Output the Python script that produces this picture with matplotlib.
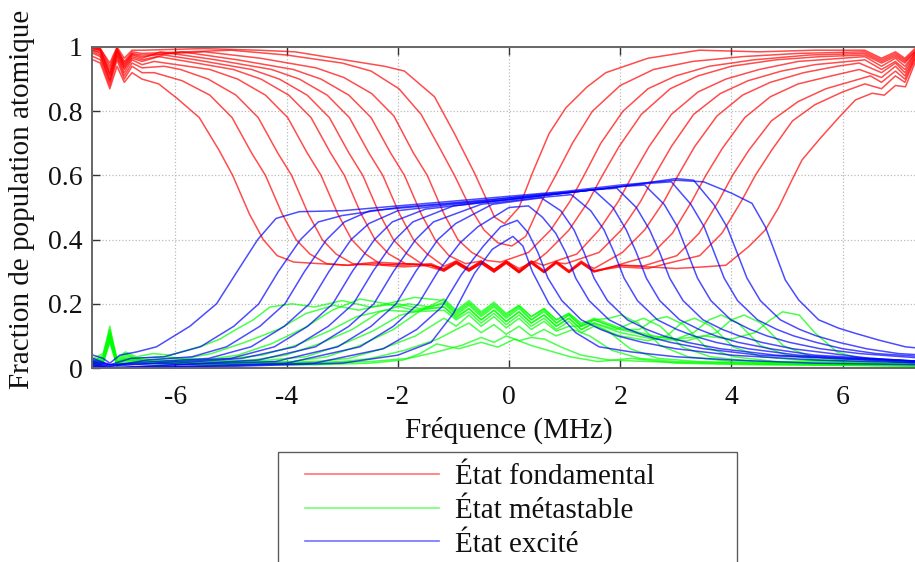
import matplotlib
matplotlib.use("Agg")
import matplotlib.pyplot as plt
from matplotlib.lines import Line2D
from matplotlib.legend_handler import HandlerBase

plt.rcParams['font.family'] = ['Liberation Serif', 'DejaVu Serif']
plt.rcParams['axes.unicode_minus'] = False

# ---------------- data ----------------
legend_labels = ["État fondamental", "État métastable", "État excité"]
x_label = "Fréquence (MHz)"
y_label = "Fraction de population atomique"
x_ticks = [-6, -4, -2, 0, 2, 4, 6]
x_tick_labels = ["-6", "-4", "-2", "0", "2", "4", "6"]
y_ticks = [0, 0.2, 0.4, 0.6, 0.8, 1.0]
y_tick_labels = ["0", "0.2", "0.4", "0.6", "0.8", "1"]

# ground state (red), one list of (frequency MHz, fraction) per scan
fondamental = [
    [(-7.48,.96),(-7.35,.95),(-7.18,.87),(-7.05,.94),(-6.92,.89),(-6.78,.92),(-6.6,.90),(-6.3,.885),(-5.97,.84),(-5.57,.78),(-5.22,.68),(-4.97,.60),(-4.67,.48),(-4.42,.40),(-4.17,.35),(-3.87,.33),(-3.4,.325),(-2.9,.32),(-2.4,.33),(-1.9,.325),(-1.4,.32),(-1.17,.31),(-0.95,.333),(-0.72,.31),(-0.5,.333),(-0.27,.307),(-0.05,.333),(0.18,.303),(0.40,.333),(0.63,.303),(0.85,.333),(1.08,.303),(1.30,.333),(1.53,.303),(2.0,.32),(2.5,.315),(3.0,.31),(3.5,.315),(3.9,.32),(4.31,.378),(4.61,.43),(4.85,.50),(5.09,.586),(5.27,.648),(5.57,.71),(5.93,.78),(6.23,.835),(6.53,.856),(6.75,.85),(6.95,.88),(7.13,.876),(7.3,.95),(7.48,.98)],
    [(-7.48,.97),(-7.35,.96),(-7.18,.88),(-7.05,.96),(-6.92,.90),(-6.78,.94),(-6.6,.92),(-6.38,.92),(-5.88,.895),(-5.38,.85),(-4.98,.78),(-4.63,.67),(-4.38,.60),(-4.08,.48),(-3.83,.40),(-3.58,.355),(-3.28,.325),(-2.9,.32),(-2.4,.325),(-1.9,.32),(-1.4,.325),(-1.17,.307),(-0.95,.33),(-0.72,.307),(-0.5,.33),(-0.27,.303),(-0.05,.33),(0.18,.30),(0.40,.33),(0.63,.30),(0.85,.33),(1.08,.30),(1.30,.328),(1.53,.302),(2.0,.315),(2.5,.31),(2.83,.325),(3.43,.35),(3.83,.42),(4.18,.52),(4.43,.60),(4.73,.68),(5.1,.77),(5.5,.82),(6.0,.86),(6.4,.885),(6.7,.87),(6.95,.91),(7.12,.89),(7.3,.96),(7.48,.985)],
    [(-7.48,.98),(-7.35,.97),(-7.18,.89),(-7.05,.97),(-6.92,.91),(-6.78,.95),(-6.6,.935),(-6.2,.94),(-5.91,.93),(-5.41,.90),(-4.91,.85),(-4.51,.78),(-4.16,.67),(-3.91,.60),(-3.61,.48),(-3.36,.40),(-3.11,.355),(-2.81,.325),(-2.4,.32),(-1.9,.325),(-1.4,.32),(-1.17,.305),(-0.95,.328),(-0.72,.305),(-0.5,.328),(-0.27,.302),(-0.05,.328),(0.18,.298),(0.40,.328),(0.63,.298),(0.85,.328),(1.08,.298),(1.30,.328),(1.53,.30),(2.0,.32),(2.42,.318),(3.02,.35),(3.42,.42),(3.77,.52),(4.02,.60),(4.32,.68),(4.72,.77),(5.2,.83),(5.7,.87),(6.2,.895),(6.5,.91),(6.7,.89),(6.95,.925),(7.12,.90),(7.3,.965),(7.48,.985)],
    [(-7.48,.985),(-7.35,.975),(-7.18,.895),(-7.05,.975),(-6.92,.92),(-6.78,.96),(-6.6,.945),(-6.38,.955),(-5.38,.93),(-4.88,.90),(-4.38,.85),(-3.98,.78),(-3.63,.67),(-3.38,.60),(-3.08,.48),(-2.83,.40),(-2.58,.355),(-2.28,.32),(-1.9,.315),(-1.4,.32),(-1.17,.302),(-0.95,.326),(-0.72,.302),(-0.5,.326),(-0.27,.299),(-0.05,.326),(0.18,.297),(0.40,.326),(0.63,.297),(0.85,.326),(1.08,.297),(1.30,.326),(1.53,.299),(1.94,.32),(2.54,.35),(2.94,.42),(3.29,.52),(3.54,.60),(3.84,.685),(4.24,.78),(4.7,.845),(5.2,.885),(5.8,.91),(6.3,.93),(6.7,.905),(6.95,.94),(7.12,.91),(7.3,.97),(7.48,.99)],
    [(-7.48,.99),(-7.35,.98),(-7.18,.90),(-7.05,.98),(-6.92,.93),(-6.78,.965),(-6.6,.955),(-6.3,.97),(-5.96,.96),(-4.96,.93),(-4.46,.90),(-3.96,.85),(-3.56,.78),(-3.21,.67),(-2.96,.60),(-2.66,.48),(-2.41,.40),(-2.16,.355),(-1.86,.325),(-1.4,.32),(-1.17,.307),(-0.95,.331),(-0.72,.307),(-0.5,.331),(-0.27,.304),(-0.05,.331),(0.18,.302),(0.40,.331),(0.63,.302),(0.85,.331),(1.08,.302),(1.30,.331),(1.53,.31),(2.04,.36),(2.44,.43),(2.79,.52),(3.04,.60),(3.34,.69),(3.74,.785),(4.2,.85),(4.7,.89),(5.3,.92),(5.9,.94),(6.3,.95),(6.7,.92),(6.95,.95),(7.12,.92),(7.3,.975),(7.48,.99)],
    [(-7.48,.99),(-7.35,.985),(-7.18,.91),(-7.05,.985),(-6.92,.935),(-6.78,.97),(-6.6,.96),(-6.2,.975),(-5.63,.96),(-4.63,.93),(-4.13,.90),(-3.63,.85),(-3.23,.78),(-2.88,.67),(-2.63,.60),(-2.33,.48),(-2.08,.40),(-1.83,.355),(-1.53,.32),(-1.17,.302),(-0.95,.326),(-0.72,.302),(-0.5,.326),(-0.27,.299),(-0.05,.328),(0.18,.297),(0.40,.328),(0.63,.299),(0.85,.328),(1.02,.325),(1.62,.36),(2.02,.43),(2.37,.52),(2.62,.60),(2.92,.69),(3.32,.79),(3.8,.855),(4.3,.895),(4.9,.925),(5.5,.945),(6.1,.955),(6.4,.96),(6.7,.93),(6.95,.955),(7.12,.93),(7.3,.98),(7.48,.99)],
    [(-7.48,.995),(-7.35,.99),(-7.18,.915),(-7.05,.99),(-6.92,.94),(-6.78,.975),(-6.6,.965),(-6.27,.985),(-5.27,.96),(-4.27,.93),(-3.77,.90),(-3.27,.85),(-2.87,.78),(-2.52,.67),(-2.27,.60),(-1.97,.48),(-1.72,.40),(-1.47,.355),(-1.17,.317),(-0.95,.333),(-0.72,.307),(-0.5,.333),(-0.27,.305),(-0.05,.333),(0.18,.302),(0.40,.333),(0.62,.32),(1.22,.355),(1.62,.43),(1.97,.52),(2.22,.60),(2.52,.69),(2.92,.79),(3.4,.86),(3.9,.90),(4.5,.93),(5.2,.955),(6.0,.965),(6.4,.97),(6.7,.94),(6.95,.965),(7.12,.94),(7.3,.98),(7.48,.995)],
    [(-7.48,.995),(-7.35,.99),(-7.18,.92),(-7.05,.99),(-6.92,.945),(-6.78,.978),(-6.6,.97),(-5.88,.985),(-4.88,.96),(-3.88,.93),(-3.38,.90),(-2.88,.85),(-2.48,.78),(-2.13,.67),(-1.88,.60),(-1.58,.48),(-1.33,.40),(-1.08,.35),(-0.78,.325),(-0.5,.333),(-0.27,.307),(-0.05,.333),(0.18,.31),(0.5,.335),(0.68,.36),(1.08,.43),(1.43,.52),(1.68,.60),(1.98,.69),(2.38,.79),(2.9,.87),(3.4,.91),(4.0,.94),(4.8,.96),(5.6,.97),(6.4,.975),(6.7,.95),(6.95,.97),(7.12,.95),(7.3,.985),(7.48,.995)],
    [(-7.48,1.0),(-7.35,.99),(-7.18,.93),(-7.05,.995),(-6.92,.95),(-6.78,.98),(-6.6,.975),(-5.47,.985),(-4.47,.965),(-3.47,.935),(-2.97,.905),(-2.47,.855),(-2.07,.785),(-1.72,.67),(-1.47,.60),(-1.17,.48),(-0.92,.40),(-0.67,.36),(-0.4,.335),(-0.15,.33),(0.1,.345),(0.35,.36),(0.75,.43),(1.1,.52),(1.35,.60),(1.65,.70),(2.05,.80),(2.5,.87),(3.0,.91),(3.6,.94),(4.4,.96),(5.4,.975),(6.4,.98),(6.7,.955),(6.95,.975),(7.12,.955),(7.3,.985),(7.48,.995)],
    [(-7.48,1.0),(-7.35,.995),(-7.18,.94),(-7.05,.995),(-6.92,.955),(-6.78,.985),(-6.6,.98),(-5.0,.99),(-4.0,.975),(-3.0,.95),(-2.48,.925),(-1.98,.87),(-1.58,.79),(-1.23,.68),(-0.98,.60),(-0.7,.50),(-0.45,.43),(-0.2,.39),(0.05,.38),(0.3,.41),(0.59,.52),(0.84,.60),(1.14,.70),(1.5,.80),(2.0,.88),(2.6,.93),(3.3,.955),(4.2,.97),(5.2,.98),(6.4,.985),(6.7,.96),(6.95,.98),(7.12,.96),(7.3,.99),(7.48,1.0)],
    [(-7.48,1.0),(-7.35,.995),(-7.18,.95),(-7.05,1.0),(-6.92,.965),(-6.78,.99),(-6.6,.99),(-5.5,.995),(-4.5,.99),(-3.85,.985),(-2.96,.96),(-2.24,.94),(-1.88,.925),(-1.34,.845),(-0.98,.73),(-0.62,.607),(-0.26,.47),(-0.08,.45),(0.18,.50),(0.42,.607),(0.72,.73),(1.02,.81),(1.4,.875),(1.74,.92),(2.5,.965),(3.42,.99),(4.5,.985),(5.5,.99),(6.4,.99),(6.7,.965),(6.95,.985),(7.12,.965),(7.3,.995),(7.48,1.0)],
]

# metastable state (green)
metastable = [
    [(-7.48,.03),(-7.3,.045),(-7.18,.12),(-7.05,.03),(-6.9,.05),(-6.7,.035),(-6.4,.045),(-6.1,.04),(-5.8,.055),(-5.5,.07),(-5.2,.09),(-4.91,.12),(-4.6,.15),(-4.3,.19),(-3.9,.20),(-3.5,.19),(-3.0,.21),(-2.5,.19),(-2.0,.20),(-1.6,.185),(-1.17,.20),(-0.95,.165),(-0.72,.195),(-0.5,.16),(-0.27,.19),(-0.05,.155),(0.18,.185),(0.40,.15),(0.63,.175),(0.85,.14),(1.08,.165),(1.30,.13),(1.53,.15),(2.0,.12),(2.5,.10),(3.0,.09),(3.5,.10),(4.0,.09),(4.42,.11),(4.7,.15),(4.92,.175),(5.22,.165),(5.5,.11),(5.9,.05),(6.3,.03),(7.0,.02),(7.48,.02)],
    [(-7.48,.02),(-7.3,.04),(-7.18,.11),(-7.05,.025),(-6.9,.045),(-6.7,.03),(-6.2,.035),(-5.8,.03),(-5.35,.045),(-4.75,.08),(-4.15,.12),(-3.65,.17),(-3.15,.195),(-2.7,.18),(-2.2,.20),(-1.7,.18),(-1.17,.19),(-0.95,.16),(-0.72,.185),(-0.5,.15),(-0.27,.18),(-0.05,.145),(0.18,.175),(0.40,.14),(0.63,.165),(0.85,.13),(1.08,.155),(1.30,.12),(1.53,.14),(2.0,.11),(2.6,.09),(3.2,.085),(3.73,.11),(4.0,.15),(4.23,.165),(4.53,.14),(4.93,.07),(5.43,.035),(6.0,.025),(6.6,.03),(7.2,.015),(7.48,.02)],
    [(-7.48,.025),(-7.3,.035),(-7.18,.13),(-7.05,.02),(-6.9,.04),(-6.6,.025),(-6.0,.03),(-5.5,.025),(-4.88,.04),(-4.28,.075),(-3.68,.125),(-3.18,.18),(-2.68,.215),(-2.2,.20),(-1.7,.22),(-1.17,.21),(-0.95,.175),(-0.72,.205),(-0.5,.17),(-0.27,.20),(-0.05,.165),(0.18,.195),(0.40,.16),(0.63,.185),(0.85,.15),(1.08,.17),(1.30,.135),(1.53,.155),(2.0,.125),(2.6,.10),(3.0,.09),(3.32,.11),(3.6,.15),(3.82,.165),(4.12,.14),(4.52,.07),(5.0,.04),(5.6,.025),(6.3,.02),(7.0,.025),(7.48,.015)],
    [(-7.48,.02),(-7.3,.03),(-7.18,.10),(-7.05,.015),(-6.9,.035),(-6.5,.02),(-5.8,.025),(-5.0,.03),(-4.44,.04),(-3.84,.07),(-3.24,.115),(-2.74,.16),(-2.24,.18),(-1.7,.175),(-1.17,.18),(-0.95,.15),(-0.72,.175),(-0.5,.14),(-0.27,.17),(-0.05,.135),(0.18,.165),(0.40,.13),(0.63,.155),(0.85,.12),(1.08,.145),(1.30,.11),(1.53,.13),(2.0,.10),(2.5,.085),(2.84,.10),(3.1,.14),(3.34,.155),(3.64,.13),(4.04,.065),(4.54,.035),(5.2,.025),(6.0,.02),(6.8,.015),(7.48,.02)],
    [(-7.48,.015),(-7.3,.03),(-7.18,.115),(-7.05,.02),(-6.9,.03),(-6.4,.02),(-5.5,.02),(-4.6,.025),(-4.02,.04),(-3.42,.075),(-2.82,.12),(-2.32,.175),(-1.82,.20),(-1.4,.19),(-1.17,.205),(-0.95,.17),(-0.72,.20),(-0.5,.165),(-0.27,.195),(-0.05,.16),(0.18,.19),(0.40,.15),(0.63,.18),(0.85,.14),(1.08,.165),(1.30,.13),(1.53,.15),(2.0,.12),(2.34,.12),(2.6,.15),(2.84,.16),(3.14,.135),(3.54,.065),(4.04,.035),(4.8,.02),(5.6,.02),(6.5,.015),(7.48,.01)],
    [(-7.48,.015),(-7.3,.025),(-7.18,.10),(-7.05,.015),(-6.9,.03),(-6.3,.02),(-5.3,.015),(-4.3,.025),(-3.65,.035),(-3.05,.07),(-2.45,.115),(-1.95,.165),(-1.45,.185),(-1.17,.19),(-0.95,.155),(-0.72,.185),(-0.5,.15),(-0.27,.18),(-0.05,.145),(0.18,.175),(0.40,.14),(0.63,.165),(0.85,.13),(1.08,.155),(1.30,.12),(1.53,.14),(1.92,.12),(2.2,.14),(2.42,.155),(2.72,.13),(3.12,.065),(3.62,.035),(4.4,.02),(5.4,.015),(6.4,.015),(7.48,.01)],
    [(-7.48,.01),(-7.3,.025),(-7.18,.105),(-7.05,.015),(-6.9,.025),(-6.2,.015),(-5.0,.02),(-3.9,.02),(-3.28,.035),(-2.68,.07),(-2.08,.12),(-1.58,.18),(-1.17,.215),(-0.95,.18),(-0.72,.21),(-0.5,.175),(-0.27,.205),(-0.05,.17),(0.18,.195),(0.40,.16),(0.63,.185),(0.85,.15),(1.08,.17),(1.30,.14),(1.53,.15),(1.8,.155),(2.02,.165),(2.32,.14),(2.72,.07),(3.22,.035),(4.0,.02),(5.0,.015),(6.2,.015),(7.48,.01)],
    [(-7.48,.01),(-7.3,.02),(-7.18,.095),(-7.05,.01),(-6.9,.025),(-6.0,.015),(-4.8,.015),(-3.5,.02),(-2.88,.03),(-2.28,.06),(-1.68,.10),(-1.17,.155),(-0.95,.13),(-0.72,.165),(-0.5,.13),(-0.27,.16),(-0.05,.125),(0.18,.155),(0.40,.12),(0.63,.145),(0.85,.115),(1.08,.13),(1.28,.13),(1.48,.14),(1.78,.115),(2.18,.06),(2.68,.03),(3.4,.02),(4.5,.015),(5.8,.01),(7.48,.01)],
    [(-7.48,.01),(-7.3,.02),(-7.18,.09),(-7.05,.01),(-6.9,.02),(-5.5,.015),(-4.0,.015),(-3.0,.02),(-2.48,.03),(-1.88,.055),(-1.28,.09),(-0.95,.12),(-0.72,.14),(-0.5,.11),(-0.27,.135),(-0.05,.105),(0.18,.13),(0.40,.10),(0.63,.12),(0.85,.10),(1.0,.11),(1.15,.12),(1.45,.10),(1.85,.055),(2.35,.03),(3.0,.02),(4.2,.015),(5.6,.01),(7.48,.01)],
    [(-7.48,.005),(-7.3,.015),(-7.18,.085),(-7.05,.01),(-6.9,.015),(-5.0,.01),(-3.5,.015),(-2.5,.02),(-1.8,.03),(-1.3,.05),(-0.86,.07),(-0.5,.095),(-0.27,.08),(-0.05,.10),(0.18,.085),(0.40,.095),(0.64,.09),(0.94,.065),(1.3,.04),(1.8,.025),(2.5,.02),(3.5,.015),(5.0,.01),(7.48,.005)],
    [(-7.48,.005),(-7.3,.015),(-7.18,.08),(-7.05,.005),(-6.9,.015),(-5.0,.01),(-3.5,.01),(-2.5,.015),(-1.9,.025),(-1.6,.045),(-1.3,.075),(-0.9,.06),(-0.5,.08),(-0.2,.065),(0.1,.09),(0.4,.07),(0.7,.055),(1.1,.035),(1.6,.02),(2.2,.03),(3.0,.015),(4.5,.01),(6.0,.01),(7.48,.005)],
]

# excited state (blue)
excite = [
    [(-7.48,.04),(-7.3,.03),(-7.18,.015),(-7.0,.04),(-6.7,.05),(-6.34,.066),(-5.74,.13),(-5.26,.20),(-4.91,.295),(-4.52,.40),(-4.19,.466),(-3.77,.487),(-3.0,.49),(-2.0,.505),(-1.0,.52),(0.0,.535),(1.0,.55),(2.0,.57),(3.0,.585),(3.5,.58),(4.01,.544),(4.37,.513),(4.61,.44),(4.79,.357),(4.97,.274),(5.21,.212),(5.57,.15),(5.93,.124),(6.23,.108),(6.65,.087),(7.13,.066),(7.48,.06)],
    [(-7.48,.03),(-7.18,.01),(-6.8,.03),(-6.2,.035),(-5.55,.066),(-4.95,.13),(-4.5,.20),(-4.15,.30),(-3.75,.40),(-3.43,.455),(-3.0,.475),(-2.0,.50),(-1.0,.515),(0.0,.53),(1.0,.545),(2.0,.565),(3.0,.59),(3.32,.585),(3.68,.51),(3.92,.44),(4.10,.36),(4.28,.28),(4.52,.21),(4.88,.15),(5.23,.12),(5.53,.10),(5.93,.08),(6.43,.06),(7.0,.045),(7.48,.04)],
    [(-7.48,.02),(-7.18,.005),(-6.5,.025),(-5.7,.035),(-5.08,.066),(-4.48,.13),(-4.03,.20),(-3.68,.30),(-3.28,.40),(-2.96,.455),(-2.5,.49),(-1.5,.505),(-0.5,.52),(0.5,.54),(1.5,.555),(2.5,.575),(2.92,.58),(3.27,.51),(3.51,.44),(3.69,.36),(3.87,.28),(4.11,.21),(4.47,.15),(4.82,.12),(5.12,.10),(5.52,.08),(6.0,.06),(6.6,.045),(7.48,.035)],
    [(-7.48,.025),(-7.18,.01),(-6.4,.02),(-5.4,.03),(-4.64,.066),(-4.04,.13),(-3.59,.20),(-3.24,.30),(-2.84,.40),(-2.52,.45),(-2.0,.49),(-1.0,.51),(0.0,.525),(1.0,.545),(2.0,.565),(2.44,.57),(2.79,.51),(3.03,.44),(3.21,.36),(3.39,.28),(3.63,.21),(3.99,.15),(4.34,.12),(4.64,.10),(5.04,.08),(5.6,.06),(6.3,.045),(7.48,.03)],
    [(-7.48,.015),(-7.18,.005),(-6.0,.02),(-5.0,.03),(-4.22,.066),(-3.62,.13),(-3.17,.20),(-2.82,.30),(-2.42,.40),(-2.10,.455),(-1.5,.495),(-0.5,.515),(0.5,.535),(1.5,.555),(1.94,.56),(2.29,.50),(2.53,.43),(2.71,.36),(2.89,.28),(3.13,.21),(3.49,.15),(3.84,.12),(4.14,.10),(4.54,.08),(5.1,.06),(5.8,.045),(6.5,.03),(7.48,.02)],
    [(-7.48,.02),(-7.18,.01),(-6.0,.015),(-4.8,.03),(-3.85,.066),(-3.25,.13),(-2.8,.20),(-2.45,.30),(-2.05,.40),(-1.73,.455),(-1.0,.505),(0.0,.525),(1.0,.545),(1.52,.555),(1.87,.50),(2.11,.43),(2.29,.36),(2.47,.28),(2.71,.21),(3.07,.15),(3.42,.12),(3.72,.10),(4.12,.08),(4.7,.06),(5.5,.04),(6.5,.03),(7.48,.02)],
    [(-7.48,.015),(-7.18,.0),(-6.0,.01),(-4.5,.025),(-3.48,.066),(-2.88,.13),(-2.43,.20),(-2.08,.30),(-1.68,.40),(-1.36,.455),(-0.5,.51),(0.5,.53),(1.12,.54),(1.47,.49),(1.71,.43),(1.89,.36),(2.07,.28),(2.31,.21),(2.67,.15),(3.02,.12),(3.32,.10),(3.72,.08),(4.3,.06),(5.2,.04),(6.2,.03),(7.48,.02)],
    [(-7.48,.01),(-7.18,.0),(-6.0,.01),(-4.2,.02),(-3.08,.066),(-2.48,.13),(-2.03,.20),(-1.68,.30),(-1.28,.40),(-0.96,.45),(-0.3,.51),(0.58,.53),(0.93,.49),(1.17,.43),(1.35,.36),(1.53,.28),(1.77,.21),(2.13,.15),(2.48,.12),(2.78,.10),(3.2,.08),(3.8,.06),(4.8,.04),(6.0,.03),(7.48,.02)],
    [(-7.48,.01),(-7.18,.0),(-6.0,.005),(-4.0,.015),(-2.68,.066),(-2.08,.13),(-1.63,.20),(-1.28,.30),(-0.88,.39),(-0.56,.44),(0.0,.50),(0.35,.505),(0.6,.47),(0.84,.42),(1.02,.36),(1.2,.28),(1.44,.21),(1.8,.15),(2.15,.12),(2.45,.10),(2.9,.08),(3.5,.06),(4.5,.04),(5.8,.03),(7.48,.015)],
    [(-7.48,.005),(-7.18,.0),(-5.5,.005),(-3.5,.015),(-2.26,.06),(-1.66,.12),(-1.21,.19),(-0.86,.29),(-0.46,.38),(-0.15,.44),(0.15,.46),(0.35,.42),(0.52,.36),(0.70,.28),(0.95,.21),(1.3,.15),(1.65,.12),(1.95,.10),(2.4,.08),(3.0,.06),(4.0,.04),(5.5,.025),(7.48,.015)],
    [(-7.48,.005),(-7.18,.0),(-5.0,.005),(-3.0,.015),(-2.0,.04),(-1.4,.08),(-1.0,.17),(-0.62,.295),(-0.3,.37),(0.07,.41),(0.25,.38),(0.42,.30),(0.72,.20),(1.2,.11),(1.62,.066),(2.2,.05),(3.0,.035),(4.0,.025),(5.5,.015),(7.48,.01)],
]

colors = ["#ff0000", "#00ff00", "#0000ff"]


class PaddedLineHandler(HandlerBase):
    """Legend line drawn with some empty space on both ends of the handle box."""
    def __init__(self, pad_left, pad_right):
        super().__init__()
        self.pad_left = pad_left
        self.pad_right = pad_right

    def create_artists(self, legend, orig_handle, xdescent, ydescent,
                       width, height, fontsize, trans):
        y = height / 2.0 - ydescent
        x0 = -xdescent + self.pad_left * fontsize
        x1 = -xdescent + width - self.pad_right * fontsize
        line = Line2D([x0, x1], [y, y], color=orig_handle.get_color(),
                      lw=orig_handle.get_linewidth(), alpha=orig_handle.get_alpha())
        line.set_transform(trans)
        return [line]


# ---------------- figure ----------------
W, H = 915, 562
fig = plt.figure(figsize=(W / 100, H / 100), dpi=100)
ax_left, ax_right, ax_top, ax_bottom = 92, 926, 47, 368
ax = fig.add_axes([ax_left / W, 1 - ax_bottom / H, (ax_right - ax_left) / W, (ax_bottom - ax_top) / H])

for group, col in zip([fondamental, metastable, excite], colors):
    for curve in group:
        xs = [p[0] for p in curve]
        ys = [p[1] for p in curve]
        ax.plot(xs, ys, color=col, lw=1.1, alpha=0.7, solid_joinstyle='round')

ax.set_xlim(-7.5, 7.5)
ax.set_ylim(0, 1)
ax.set_xticks(x_ticks)
ax.set_xticklabels(x_tick_labels)
ax.set_yticks(y_ticks)
ax.set_yticklabels(y_tick_labels)
ax.tick_params(direction='in', length=6, width=1, color='#333333',
               top=True, right=True, labelsize=20, labelcolor='#111111')
ax.tick_params(axis='x', pad=12)
ax.tick_params(axis='y', pad=7)
ax.grid(True, linestyle=':', color='#bbbbbb', lw=0.9)
for s in ax.spines.values():
    s.set_color('#666666')
    s.set_linewidth(1.4)

ax.set_xlabel(x_label, fontsize=21, color='#111111', labelpad=5)
ax.set_ylabel(y_label, fontsize=21, color='#111111')
ax.yaxis.set_label_coords(-0.068, 0.526)

handles = [Line2D([], [], color=c, lw=1.2, alpha=0.55) for c in colors]
leg = fig.legend(handles, legend_labels, loc='upper left',
                 bbox_to_anchor=(278 / W, 0.0, 459 / W, 1 - 452 / H),
                 bbox_transform=fig.transFigure, mode='expand',
                 fontsize=21, frameon=True, fancybox=False,
                 borderpad=0.4, handlelength=5.66, handletextpad=0.0,
                 labelspacing=0.25, borderaxespad=0.0,
                 handler_map={Line2D: PaddedLineHandler(0.52, 0.55)})
leg.get_frame().set_edgecolor('#333333')
leg.get_frame().set_linewidth(1.0)
for t in leg.get_texts():
    t.set_color('#111111')

fig.savefig("out.png", dpi=100)
